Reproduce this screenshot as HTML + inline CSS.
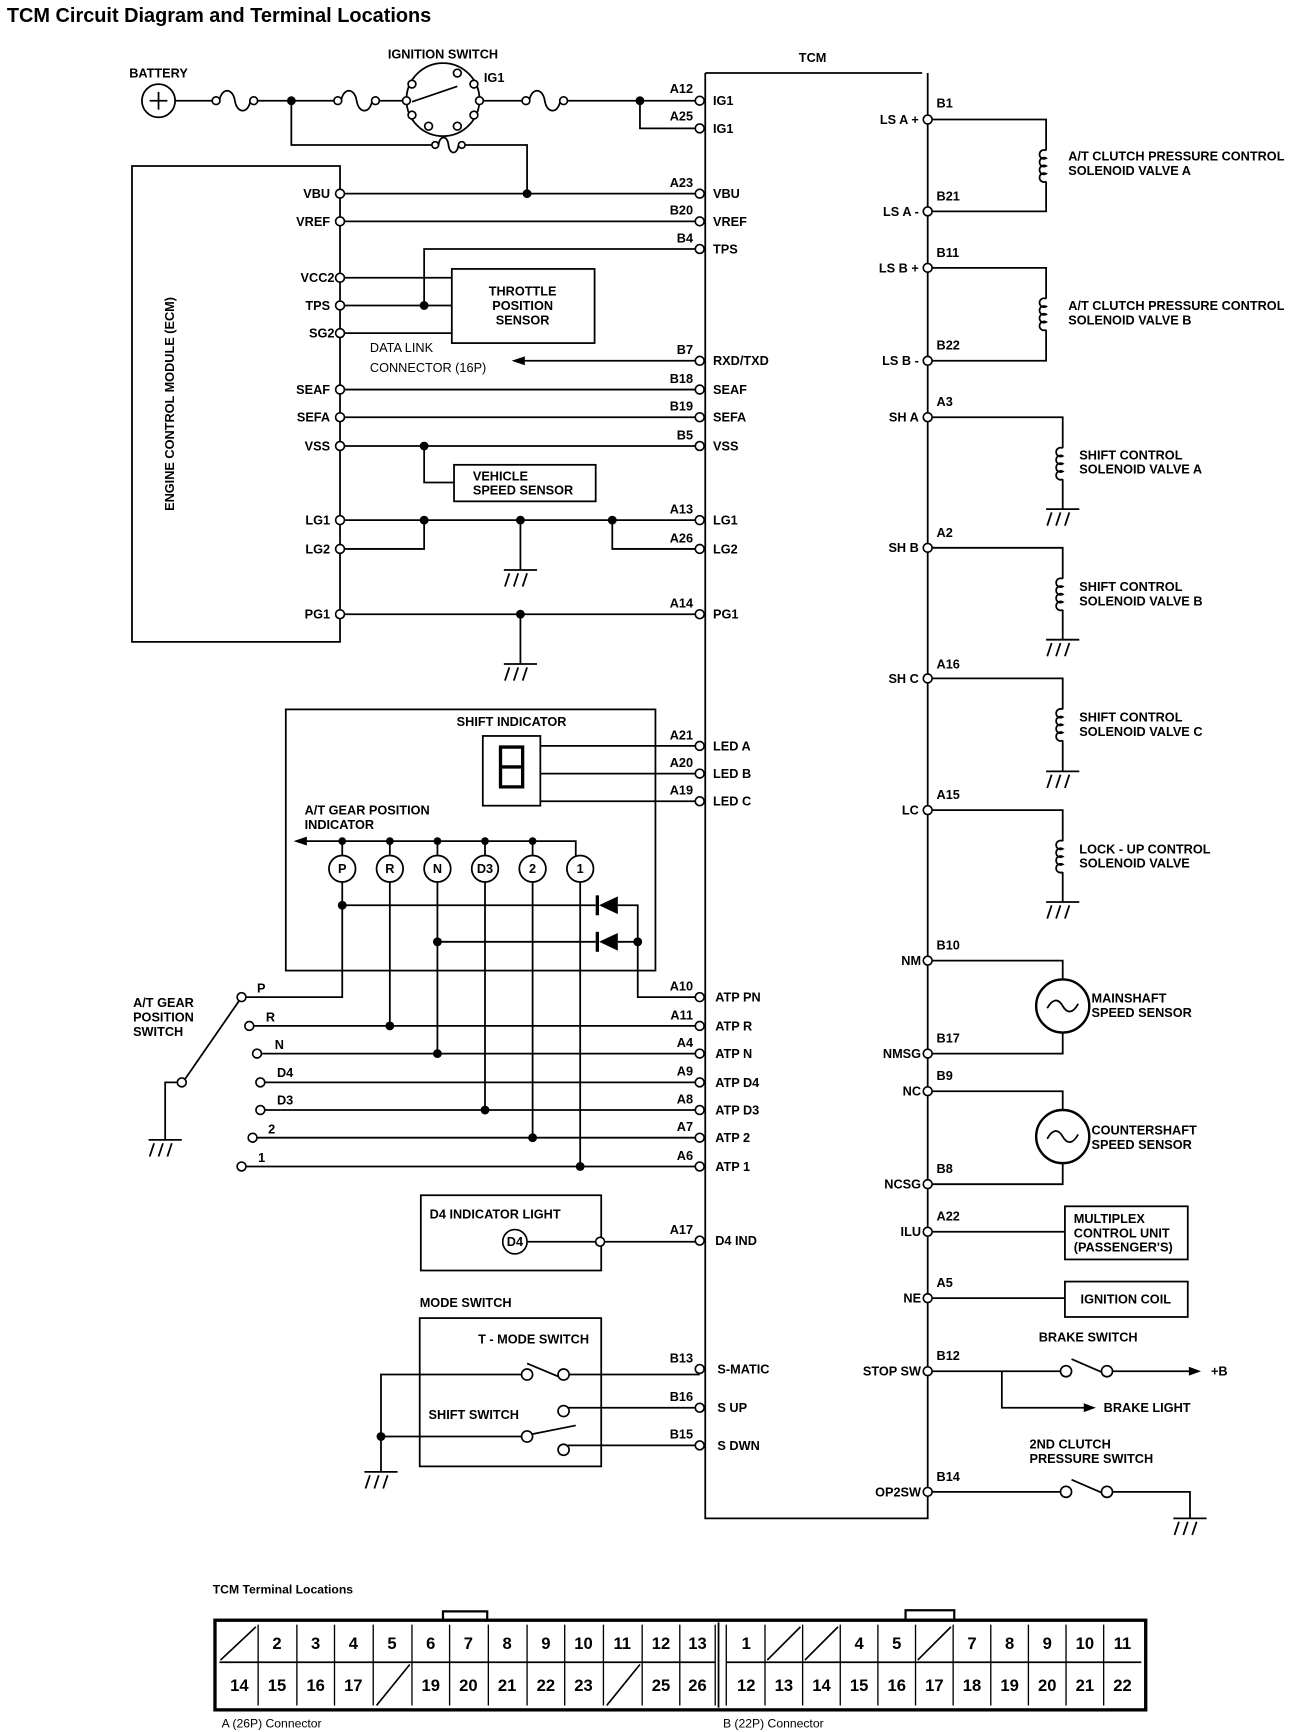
<!DOCTYPE html>
<html><head><meta charset="utf-8"><style>
html,body{margin:0;padding:0;background:#fff}
svg{display:block}
text{font-family:"Liberation Sans",sans-serif;font-weight:bold;font-size:11.5px;fill:#000}
.e{text-anchor:end}
.m{text-anchor:middle}
</style></head><body>
<svg width="1312" height="1732" viewBox="0 0 1185 1565" xmlns="http://www.w3.org/2000/svg">
<g stroke="#000" stroke-width="1.6" fill="none">
<path d="M637,66 H833 M637,66 V1372 H838 V66"/>
<circle cx="143" cy="91" r="15"/>
<path d="M135,91 h16 M143,83 v16"/>
<path d="M158,91 H192 M232,91 H302 M343,91 H367 M433,91 H472 M513,91 H632"/>
<path d="M198,91 c2,-12 12,-12 14,0 c2,12 12,12 14,0"/>
<path d="M308,91 c2,-12 12,-12 14,0 c2,12 12,12 14,0"/>
<path d="M478,91 c2,-12 12,-12 14,0 c2,12 12,12 14,0"/>
<circle cx="400" cy="90" r="33"/>
<path d="M372,92 L413,78"/>
<path d="M263,91 V131 H390 M420,131 H476 V175"/>
<path d="M396,131 c1,-9 8,-9 9,0 c1,9 8,9 9,0"/>
<path d="M578,91 V116 H632"/>
<path d="M119,150 H307 V580 H119 Z"/>
<path d="M307,175 H632 M307,200 H632 M632,225 H383 V276 M307,251 H408 M307,276 H408 M307,301 H408"/>
<rect x="408" y="243" width="129" height="67"/>
<path d="M632,326 H472"/>
<path d="M307,352 H632 M307,377 H632 M307,403 H632 M383,403 V436 H410"/>
<rect x="410" y="420" width="128" height="33"/>
<path d="M307,470 H632 M307,496 H383 V470 M553,470 V496 H632 M470,470 V515 M307,555 H632 M470,555 V600"/>
<rect x="258" y="641" width="334" height="236"/>
<rect x="436" y="665" width="52" height="63"/>
<path d="M488,674 H632 M488,699 H632 M488,724 H632"/>
<path d="M274,760 H520 V773 M309,760 V773 M352,760 V773 M395,760 V773 M438,760 V773 M481,760 V773"/>
<circle cx="309" cy="785" r="12"/><circle cx="352" cy="785" r="12"/><circle cx="395" cy="785" r="12"/>
<circle cx="438" cy="785" r="12"/><circle cx="481" cy="785" r="12"/><circle cx="524" cy="785" r="12"/>
<path d="M309,797 V901 H222 M352,797 V927 M395,797 V952 M438,797 V1003 M481,797 V1028 M524,797 V1054"/>
<path d="M309,818 H538 M395,851 H538 M558,818 H576 V901 H632 M558,851 H576"/>
<path d="M229,927 H632 M236,952 H632 M239,978 H632 M239,1003 H632 M232,1028 H632 M222,1054 H632"/>
<path d="M167,975 L216,904 M160,978 H149 V1030"/>
<rect x="380" y="1080" width="163" height="68"/>
<path d="M476,1122 H538 M546,1122 H632"/>
<rect x="379" y="1191" width="164" height="134"/>
<path d="M472,1242 H344 V1330 M513,1242 H632 M476,1232 L507,1245 M513,1272 H632 M513,1306 H632 M480,1296 L520,1288 M472,1298 H344"/>
<path d="M838,108 H945 V136 M945,164 V191 H838"/>
<path d="M945,136 a4,4 0 1 0 0,7 a4,4 0 1 0 0,7 a4,4 0 1 0 0,7 a4,4 0 1 0 0,7"/>
<path d="M838,242 H945 V270 M945,298 V326 H838"/>
<path d="M945,270 a4,4 0 1 0 0,7 a4,4 0 1 0 0,7 a4,4 0 1 0 0,7 a4,4 0 1 0 0,7"/>
<path d="M838,377 H960 V405 M960,433 V460"/>
<path d="M960,405 a4,4 0 1 0 0,7 a4,4 0 1 0 0,7 a4,4 0 1 0 0,7 a4,4 0 1 0 0,7"/>
<path d="M838,495 H960 V523 M960,551 V578"/>
<path d="M960,523 a4,4 0 1 0 0,7 a4,4 0 1 0 0,7 a4,4 0 1 0 0,7 a4,4 0 1 0 0,7"/>
<path d="M838,613 H960 V641 M960,669 V697"/>
<path d="M960,641 a4,4 0 1 0 0,7 a4,4 0 1 0 0,7 a4,4 0 1 0 0,7 a4,4 0 1 0 0,7"/>
<path d="M838,732 H960 V760 M960,788 V815"/>
<path d="M960,760 a4,4 0 1 0 0,7 a4,4 0 1 0 0,7 a4,4 0 1 0 0,7 a4,4 0 1 0 0,7"/>
<circle cx="960" cy="909" r="24" stroke-width="2.2"/>
<path d="M838,868 H960 V885 M960,933 V952 H838 M946,911 c5,-9 10,-9 14,-2 c4,7 9,7 14,-2"/>
<circle cx="960" cy="1027" r="24" stroke-width="2.2"/>
<path d="M838,986 H960 V1003 M960,1051 V1070 H838 M946,1029 c5,-9 10,-9 14,-2 c4,7 9,7 14,-2"/>
<rect x="962" y="1090" width="111" height="48"/>
<path d="M838,1113 H962"/>
<rect x="962" y="1158" width="111" height="32"/>
<path d="M838,1173 H962"/>
<path d="M838,1239 H959 M968,1228 L998,1241 M1004,1239 H1075 M905,1239 V1272 H980 M838,1348 H959 M968,1337 L998,1350 M1004,1348 H1075 V1372"/>
</g>
<g fill="#000">
<polygon points="462,326 474,322 474,330"/>
<polygon points="265,760 277,756 277,764"/>
<polygon points="1085,1239 1074,1235 1074,1243"/>
<polygon points="990,1272 979,1268 979,1276"/>
<polygon points="541,818 558,810 558,826"/><rect x="538" y="809" width="3" height="18"/>
<polygon points="541,851 558,843 558,859"/><rect x="538" y="842" width="3" height="18"/>
<circle cx="263" cy="91" r="4"/><circle cx="578" cy="91" r="4"/><circle cx="476" cy="175" r="4"/>
<circle cx="383" cy="276" r="4"/><circle cx="383" cy="403" r="4"/>
<circle cx="383" cy="470" r="4"/><circle cx="470" cy="470" r="4"/><circle cx="553" cy="470" r="4"/><circle cx="470" cy="555" r="4"/>
<circle cx="309" cy="760" r="3.5"/><circle cx="352" cy="760" r="3.5"/><circle cx="395" cy="760" r="3.5"/><circle cx="438" cy="760" r="3.5"/><circle cx="481" cy="760" r="3.5"/>
<circle cx="309" cy="818" r="4"/><circle cx="395" cy="851" r="4"/><circle cx="576" cy="851" r="4"/>
<circle cx="352" cy="927" r="4"/><circle cx="395" cy="952" r="4"/><circle cx="438" cy="1003" r="4"/><circle cx="481" cy="1028" r="4"/><circle cx="524" cy="1054" r="4"/>
<circle cx="344" cy="1298" r="4"/>
</g>
<g stroke="#000" stroke-width="1.6" fill="none">
<path d="M455,515 h30 M460,518 l-4,12 M468,518 l-4,12 M476,518 l-4,12"/>
<path d="M455,600 h30 M460,603 l-4,12 M468,603 l-4,12 M476,603 l-4,12"/>
<path d="M134,1030 h30 M139,1033 l-4,12 M147,1033 l-4,12 M155,1033 l-4,12"/>
<path d="M329,1330 h30 M334,1333 l-4,12 M342,1333 l-4,12 M350,1333 l-4,12"/>
<path d="M945,460 h30 M950,463 l-4,12 M958,463 l-4,12 M966,463 l-4,12"/>
<path d="M945,578 h30 M950,581 l-4,12 M958,581 l-4,12 M966,581 l-4,12"/>
<path d="M945,697 h30 M950,700 l-4,12 M958,700 l-4,12 M966,700 l-4,12"/>
<path d="M945,815 h30 M950,818 l-4,12 M958,818 l-4,12 M966,818 l-4,12"/>
<path d="M1060,1372 h30 M1065,1375 l-4,12 M1073,1375 l-4,12 M1081,1375 l-4,12"/>
</g>
<g stroke="#000" stroke-width="1.5" fill="#fff">
<circle cx="195" cy="91" r="3.5"/><circle cx="229" cy="91" r="3.5"/><circle cx="305" cy="91" r="3.5"/><circle cx="339" cy="91" r="3.5"/><circle cx="475" cy="91" r="3.5"/><circle cx="509" cy="91" r="3.5"/><circle cx="393" cy="131" r="3"/><circle cx="417" cy="131" r="3"/>
<circle cx="632" cy="91" r="4"/><circle cx="632" cy="116" r="4"/><circle cx="632" cy="175" r="4"/><circle cx="632" cy="200" r="4"/><circle cx="632" cy="225" r="4"/>
<circle cx="632" cy="326" r="4"/><circle cx="632" cy="352" r="4"/><circle cx="632" cy="377" r="4"/><circle cx="632" cy="403" r="4"/>
<circle cx="632" cy="470" r="4"/><circle cx="632" cy="496" r="4"/><circle cx="632" cy="555" r="4"/>
<circle cx="632" cy="674" r="4"/><circle cx="632" cy="699" r="4"/><circle cx="632" cy="724" r="4"/>
<circle cx="632" cy="901" r="4"/><circle cx="632" cy="927" r="4"/><circle cx="632" cy="952" r="4"/><circle cx="632" cy="978" r="4"/><circle cx="632" cy="1003" r="4"/><circle cx="632" cy="1028" r="4"/><circle cx="632" cy="1054" r="4"/>
<circle cx="632" cy="1121" r="4"/><circle cx="632" cy="1237" r="4"/><circle cx="632" cy="1272" r="4"/><circle cx="632" cy="1306" r="4"/>
<circle cx="307" cy="175" r="4"/><circle cx="307" cy="200" r="4"/><circle cx="307" cy="251" r="4"/><circle cx="307" cy="276" r="4"/><circle cx="307" cy="301" r="4"/>
<circle cx="307" cy="352" r="4"/><circle cx="307" cy="377" r="4"/><circle cx="307" cy="403" r="4"/><circle cx="307" cy="470" r="4"/><circle cx="307" cy="496" r="4"/><circle cx="307" cy="555" r="4"/>
<circle cx="838" cy="108" r="4"/><circle cx="838" cy="191" r="4"/><circle cx="838" cy="242" r="4"/><circle cx="838" cy="326" r="4"/>
<circle cx="838" cy="377" r="4"/><circle cx="838" cy="495" r="4"/><circle cx="838" cy="613" r="4"/><circle cx="838" cy="732" r="4"/>
<circle cx="838" cy="868" r="4"/><circle cx="838" cy="952" r="4"/><circle cx="838" cy="986" r="4"/><circle cx="838" cy="1070" r="4"/>
<circle cx="838" cy="1113" r="4"/><circle cx="838" cy="1173" r="4"/><circle cx="838" cy="1239" r="4"/><circle cx="838" cy="1348" r="4"/>
<circle cx="963" cy="1239" r="5"/><circle cx="1000" cy="1239" r="5"/><circle cx="963" cy="1348" r="5"/><circle cx="1000" cy="1348" r="5"/>
<circle cx="372" cy="76" r="3.5"/><circle cx="428" cy="76" r="3.5"/><circle cx="372" cy="104" r="3.5"/><circle cx="428" cy="104" r="3.5"/><circle cx="367" cy="91" r="3.5"/><circle cx="433" cy="91" r="3.5"/><circle cx="413" cy="66" r="3.5"/><circle cx="387" cy="114" r="3.5"/><circle cx="413" cy="114" r="3.5"/>
<circle cx="218" cy="901" r="4"/><circle cx="225" cy="927" r="4"/><circle cx="232" cy="952" r="4"/><circle cx="235" cy="978" r="4"/><circle cx="235" cy="1003" r="4"/><circle cx="228" cy="1028" r="4"/><circle cx="218" cy="1054" r="4"/><circle cx="164" cy="978" r="4"/>
<circle cx="465" cy="1122" r="11"/><circle cx="542" cy="1122" r="4"/>
<circle cx="476" cy="1242" r="5"/><circle cx="509" cy="1242" r="5"/><circle cx="509" cy="1275" r="5"/><circle cx="476" cy="1298" r="5"/><circle cx="509" cy="1310" r="5"/>
</g>
<g stroke="#000" stroke-width="3" fill="none"><path d="M452,675 h20 v18 h-20 z M452,693 v18 h20 v-18"/></g>
<text x="6" y="20" style="font-size:18px">TCM Circuit Diagram and Terminal Locations</text>
<text x="400" y="53" class="m">IGNITION SWITCH</text><text x="437" y="74">IG1</text>
<text x="143" y="70" class="m">BATTERY</text><text x="734" y="56" class="m">TCM</text>
<text x="626" y="84" class="e">A12</text><text x="626" y="109" class="e">A25</text><text x="626" y="169" class="e">A23</text><text x="626" y="194" class="e">B20</text><text x="626" y="219" class="e">B4</text>
<text x="626" y="320" class="e">B7</text><text x="626" y="346" class="e">B18</text><text x="626" y="371" class="e">B19</text><text x="626" y="397" class="e">B5</text>
<text x="626" y="464" class="e">A13</text><text x="626" y="490" class="e">A26</text><text x="626" y="549" class="e">A14</text>
<text x="626" y="668" class="e">A21</text><text x="626" y="693" class="e">A20</text><text x="626" y="718" class="e">A19</text>
<text x="626" y="895" class="e">A10</text><text x="626" y="921" class="e">A11</text><text x="626" y="946" class="e">A4</text><text x="626" y="972" class="e">A9</text><text x="626" y="997" class="e">A8</text><text x="626" y="1022" class="e">A7</text><text x="626" y="1048" class="e">A6</text>
<text x="626" y="1115" class="e">A17</text><text x="626" y="1231" class="e">B13</text><text x="626" y="1266" class="e">B16</text><text x="626" y="1300" class="e">B15</text>
<text x="298" y="179" class="e">VBU</text><text x="298" y="204" class="e">VREF</text><text x="302" y="255" class="e">VCC2</text><text x="298" y="280" class="e">TPS</text><text x="302" y="305" class="e">SG2</text>
<text x="298" y="356" class="e">SEAF</text><text x="298" y="381" class="e">SEFA</text><text x="298" y="407" class="e">VSS</text><text x="298" y="474" class="e">LG1</text><text x="298" y="500" class="e">LG2</text><text x="298" y="559" class="e">PG1</text>
<text x="830" y="112" class="e">LS A +</text><text x="830" y="195" class="e">LS A -</text><text x="830" y="246" class="e">LS B +</text><text x="830" y="330" class="e">LS B -</text>
<text x="830" y="381" class="e">SH A</text><text x="830" y="499" class="e">SH B</text><text x="830" y="617" class="e">SH C</text><text x="830" y="736" class="e">LC</text>
<text x="832" y="872" class="e">NM</text><text x="832" y="956" class="e">NMSG</text><text x="832" y="990" class="e">NC</text><text x="832" y="1074" class="e">NCSG</text>
<text x="832" y="1117" class="e">ILU</text><text x="832" y="1177" class="e">NE</text><text x="832" y="1243" class="e">STOP SW</text><text x="832" y="1352" class="e">OP2SW</text>
<text x="644" y="95">IG1</text><text x="644" y="120">IG1</text><text x="644" y="179">VBU</text><text x="644" y="204">VREF</text><text x="644" y="229">TPS</text>
<text x="644" y="330">RXD/TXD</text><text x="644" y="356">SEAF</text><text x="644" y="381">SEFA</text><text x="644" y="407">VSS</text>
<text x="644" y="474">LG1</text><text x="644" y="500">LG2</text><text x="644" y="559">PG1</text>
<text x="644" y="678">LED A</text><text x="644" y="703">LED B</text><text x="644" y="728">LED C</text>
<text x="646" y="905">ATP PN</text><text x="646" y="931">ATP R</text><text x="646" y="956">ATP N</text><text x="646" y="982">ATP D4</text><text x="646" y="1007">ATP D3</text><text x="646" y="1032">ATP 2</text><text x="646" y="1058">ATP 1</text>
<text x="646" y="1125">D4  IND</text><text x="648" y="1241">S-MATIC</text><text x="648" y="1276">S UP</text><text x="648" y="1310">S DWN</text>
<text x="846" y="97">B1</text><text x="846" y="181">B21</text><text x="846" y="232">B11</text><text x="846" y="316">B22</text><text x="846" y="367">A3</text><text x="846" y="485">A2</text><text x="846" y="604">A16</text><text x="846" y="722">A15</text>
<text x="846" y="858">B10</text><text x="846" y="942">B17</text><text x="846" y="976">B9</text><text x="846" y="1060">B8</text><text x="846" y="1103">A22</text><text x="846" y="1163">A5</text><text x="846" y="1229">B12</text><text x="846" y="1338">B14</text>
<text x="965" y="145">A/T CLUTCH PRESSURE CONTROL</text><text x="965" y="158">SOLENOID VALVE A</text>
<text x="965" y="280">A/T CLUTCH PRESSURE CONTROL</text><text x="965" y="293">SOLENOID VALVE B</text>
<text x="975" y="415">SHIFT CONTROL</text><text x="975" y="428">SOLENOID VALVE A</text>
<text x="975" y="534">SHIFT CONTROL</text><text x="975" y="547">SOLENOID VALVE B</text>
<text x="975" y="652">SHIFT CONTROL</text><text x="975" y="665">SOLENOID VALVE C</text>
<text x="975" y="771">LOCK - UP CONTROL</text><text x="975" y="784">SOLENOID VALVE</text>
<text x="986" y="906">MAINSHAFT</text><text x="986" y="919">SPEED SENSOR</text>
<text x="986" y="1025">COUNTERSHAFT</text><text x="986" y="1038">SPEED SENSOR</text>
<text x="970" y="1105">MULTIPLEX</text><text x="970" y="1118">CONTROL UNIT</text><text x="970" y="1131">(PASSENGER'S)</text>
<text x="1017" y="1178" class="m">IGNITION COIL</text>
<text x="983" y="1212" class="m">BRAKE SWITCH</text><text x="1094" y="1243">+B</text><text x="997" y="1276">BRAKE LIGHT</text>
<text x="930" y="1309">2ND CLUTCH</text><text x="930" y="1322">PRESSURE SWITCH</text>
<text x="472" y="267" class="m">THROTTLE</text><text x="472" y="280" class="m">POSITION</text><text x="472" y="293" class="m">SENSOR</text>
<text x="427" y="434">VEHICLE</text><text x="427" y="447">SPEED SENSOR</text>
<text x="334" y="318" style="font-weight:normal">DATA LINK</text><text x="334" y="336" style="font-weight:normal">CONNECTOR (16P)</text>
<text x="157" y="365" class="m" transform="rotate(-90 157 365)">ENGINE CONTROL MODULE (ECM)</text>
<text x="462" y="656" class="m">SHIFT INDICATOR</text>
<text x="275" y="736">A/T GEAR POSITION</text><text x="275" y="749">INDICATOR</text>
<text x="309" y="789" class="m">P</text><text x="352" y="789" class="m">R</text><text x="395" y="789" class="m">N</text><text x="438" y="789" class="m">D3</text><text x="481" y="789" class="m">2</text><text x="524" y="789" class="m">1</text>
<text x="120" y="910">A/T GEAR</text><text x="120" y="923">POSITION</text><text x="120" y="936">SWITCH</text>
<text x="232" y="897">P</text><text x="240" y="923">R</text><text x="248" y="948">N</text><text x="250" y="973">D4</text><text x="250" y="998">D3</text><text x="242" y="1024">2</text><text x="233" y="1050">1</text>
<text x="388" y="1101">D4 INDICATOR LIGHT</text><text x="465" y="1126" class="m">D4</text>
<text x="379" y="1181">MODE SWITCH</text><text x="532" y="1214" class="e">T - MODE SWITCH</text><text x="387" y="1282">SHIFT SWITCH</text>
<text x="192" y="1440" style="font-size:11px">TCM Terminal Locations</text>
<text x="200" y="1561" style="font-size:11px;font-weight:normal">A (26P) Connector</text>
<text x="653" y="1561" style="font-size:11px;font-weight:normal">B (22P) Connector</text>
<g stroke="#000" fill="none">
<rect x="194" y="1464" width="841" height="81" stroke-width="3"/>
<path d="M400,1464 V1456 H440 V1464 M818,1464 V1455 H862 V1464" stroke-width="2"/>
<path d="M198,1502 H646 M656,1502 H1031 M649,1466 V1543" stroke-width="1.6"/>
<path stroke-width="1.2" d="M233,1468V1541 M268,1468V1541 M302,1468V1541 M337,1468V1541 M372,1468V1541 M406,1468V1541 M441,1468V1541 M476,1468V1541 M510,1468V1541 M545,1468V1541 M580,1468V1541 M614,1468V1541 M646,1468V1541 M656,1468V1541 M691,1468V1541 M725,1468V1541 M759,1468V1541 M793,1468V1541 M827,1468V1541 M861,1468V1541 M895,1468V1541 M929,1468V1541 M963,1468V1541 M997,1468V1541"/>
<path stroke-width="1.5" d="M199,1500 L231,1470 M340,1541 L370,1504 M548,1541 L578,1504 M693,1500 L723,1470 M727,1500 L757,1470 M829,1500 L859,1470"/>
</g>
<g>
<text x="250" y="1490" class="m" style="font-size:15px">2</text><text x="285" y="1490" class="m" style="font-size:15px">3</text><text x="319" y="1490" class="m" style="font-size:15px">4</text><text x="354" y="1490" class="m" style="font-size:15px">5</text><text x="389" y="1490" class="m" style="font-size:15px">6</text><text x="423" y="1490" class="m" style="font-size:15px">7</text><text x="458" y="1490" class="m" style="font-size:15px">8</text><text x="493" y="1490" class="m" style="font-size:15px">9</text><text x="527" y="1490" class="m" style="font-size:15px">10</text><text x="562" y="1490" class="m" style="font-size:15px">11</text><text x="597" y="1490" class="m" style="font-size:15px">12</text><text x="630" y="1490" class="m" style="font-size:15px">13</text>
<text x="216" y="1528" class="m" style="font-size:15px">14</text><text x="250" y="1528" class="m" style="font-size:15px">15</text><text x="285" y="1528" class="m" style="font-size:15px">16</text><text x="319" y="1528" class="m" style="font-size:15px">17</text><text x="389" y="1528" class="m" style="font-size:15px">19</text><text x="423" y="1528" class="m" style="font-size:15px">20</text><text x="458" y="1528" class="m" style="font-size:15px">21</text><text x="493" y="1528" class="m" style="font-size:15px">22</text><text x="527" y="1528" class="m" style="font-size:15px">23</text><text x="597" y="1528" class="m" style="font-size:15px">25</text><text x="630" y="1528" class="m" style="font-size:15px">26</text>
<text x="674" y="1490" class="m" style="font-size:15px">1</text><text x="776" y="1490" class="m" style="font-size:15px">4</text><text x="810" y="1490" class="m" style="font-size:15px">5</text><text x="878" y="1490" class="m" style="font-size:15px">7</text><text x="912" y="1490" class="m" style="font-size:15px">8</text><text x="946" y="1490" class="m" style="font-size:15px">9</text><text x="980" y="1490" class="m" style="font-size:15px">10</text><text x="1014" y="1490" class="m" style="font-size:15px">11</text>
<text x="674" y="1528" class="m" style="font-size:15px">12</text><text x="708" y="1528" class="m" style="font-size:15px">13</text><text x="742" y="1528" class="m" style="font-size:15px">14</text><text x="776" y="1528" class="m" style="font-size:15px">15</text><text x="810" y="1528" class="m" style="font-size:15px">16</text><text x="844" y="1528" class="m" style="font-size:15px">17</text><text x="878" y="1528" class="m" style="font-size:15px">18</text><text x="912" y="1528" class="m" style="font-size:15px">19</text><text x="946" y="1528" class="m" style="font-size:15px">20</text><text x="980" y="1528" class="m" style="font-size:15px">21</text><text x="1014" y="1528" class="m" style="font-size:15px">22</text>
</g>
</svg>
</body></html>
